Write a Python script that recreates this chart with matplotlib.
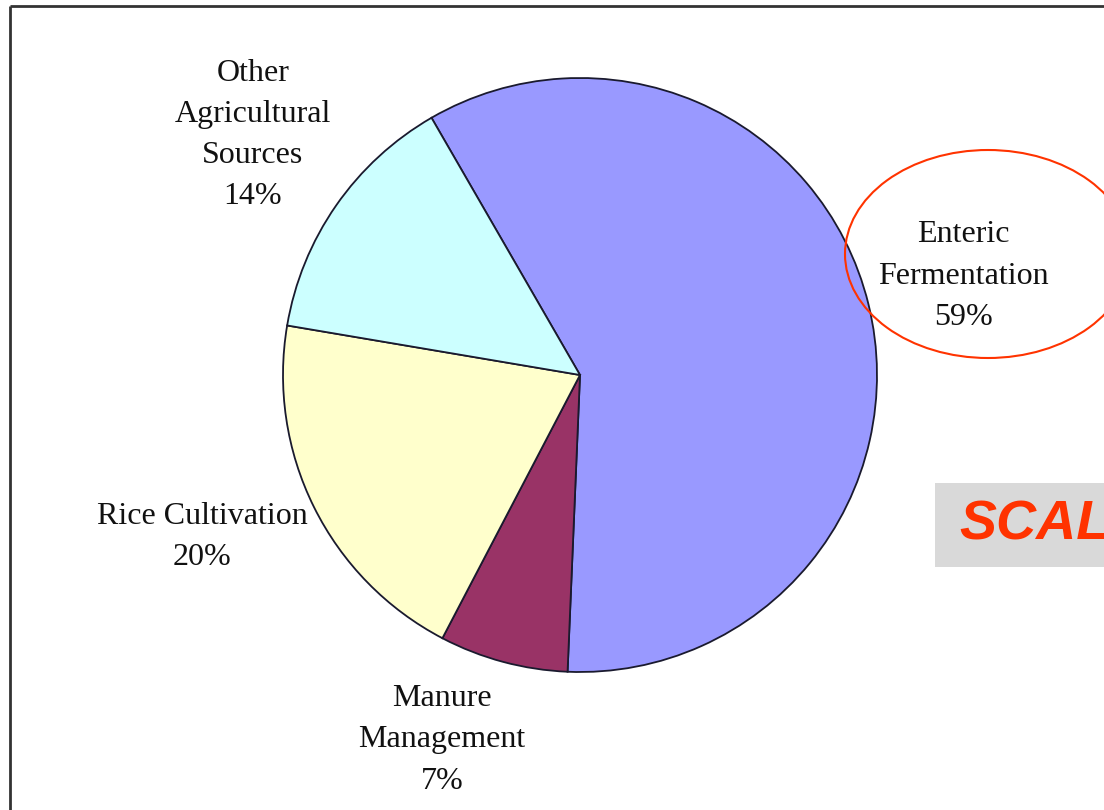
import matplotlib
matplotlib.use("Agg")
import matplotlib.pyplot as plt
from matplotlib.patches import Ellipse, Rectangle

categories = ["Enteric\nFermentation", "Manure\nManagement", "Rice Cultivation", "Other\nAgricultural\nSources"]
values = [59, 7, 20, 14]
colors = ["#9999FF", "#993366", "#FFFFCC", "#CCFFFF"]
# label anchor positions in pixel coords (x, y from top)
label_pos = [(963, 276), (442, 740), (202, 537), (253, 135)]

W, H = 1104, 810
fig = plt.figure(figsize=(W / 100, H / 100), dpi=100)
ax = fig.add_axes([0, 0, 1, 1])

ax.pie(values, colors=colors, startangle=120, counterclock=False,
       center=(580, H - 375), radius=297, frame=True,
       wedgeprops=dict(edgecolor="#1a1a2e", linewidth=1.3))
ax.set_xlim(0, W)
ax.set_ylim(0, H)
ax.axis("off")

for cat, v, (x, y) in zip(categories, values, label_pos):
    ax.text(x, H - y, f"{cat}\n{v}%", ha="center", va="center",
            fontsize=23, family="Liberation Serif", color="#111111",
            linespacing=1.55)

# frame lines
ax.plot([9.5, 9.5], [0, H - 6], color="#333333", lw=2, solid_capstyle="butt")
ax.plot([9.5, W], [H - 6, H - 6], color="#333333", lw=2, solid_capstyle="butt")

# red annotation ellipse
ax.add_patch(Ellipse((988, H - 254), 286, 208, fill=False, edgecolor="#FF3300", lw=1.5))

# gray SCALE box (cut off at the right edge, as in the reference)
ax.add_patch(Rectangle((935, H - 567), 300, 84, facecolor="#D9D9D9", edgecolor="none"))
ax.text(959, H - 525, "SCALE", ha="left", va="center", fontsize=40,
        family="Liberation Sans", fontweight="bold", fontstyle="italic", color="#FF3300")

fig.savefig("out.png", dpi=100)
